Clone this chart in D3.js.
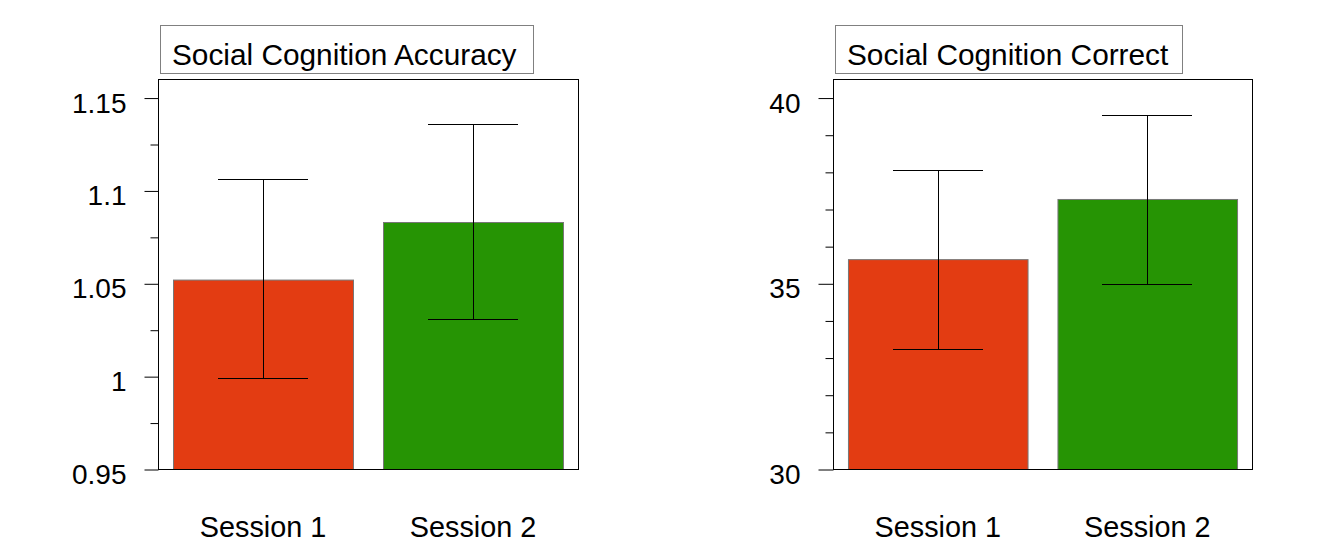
<!DOCTYPE html>
<html>
<head>
<meta charset="utf-8">
<script src="https://cdn.jsdelivr.net/npm/d3@7"></script>
<style>
  html, body { margin: 0; padding: 0; background: #ffffff; }
  svg { display: block; }
  text { font-family: "Liberation Sans", Arial, sans-serif; fill: #000; }
</style>
</head>
<body>
<svg id="chart" width="1334" height="555"></svg>
<script>
// ---- Data ----
const categories = ["Session 1", "Session 2"];
const barColors = ["#e33c12", "#269404"];

const accuracyTitle = "Social Cognition Accuracy";
const accuracyMeans = [1.052, 1.083];
const accuracyUpper = [1.106, 1.136];
const accuracyLower = [0.999, 1.031];
const accuracyMajorTicks = [0.95, 1.0, 1.05, 1.1, 1.15];
const accuracyTickLabels = ["0.95", "1", "1.05", "1.1", "1.15"];
const accuracyMinorTicks = [0.975, 1.025, 1.075, 1.125];
const accuracyDomain = [0.95, 1.16];

const correctTitle = "Social Cognition Correct";
const correctMeans = [35.65, 37.27];
const correctUpper = [38.04, 39.52];
const correctLower = [33.23, 34.98];
const correctMajorTicks = [30, 35, 40];
const correctTickLabels = ["30", "35", "40"];
const correctMinorTicks = [31, 32, 33, 34, 36, 37, 38, 39];
const correctDomain = [30, 40.5];

const svg = d3.select("#chart");

function panel(opts) {
  const { left, right, top, bottom, titleBox, title, means, upper, lower,
          majorTicks, tickLabels, minorTicks, domain, majorLen } = opts;
  const g = svg.append("g");

  const x = d3.scaleBand().domain(categories).range([left, right])
    .paddingInner(1 / 7).paddingOuter(1 / 14);
  const y = d3.scaleLinear().domain(domain).range([bottom, top]);

  // title box
  g.append("rect")
    .attr("x", titleBox[0] + 0.5).attr("y", titleBox[1] + 0.5)
    .attr("width", titleBox[2] - titleBox[0]).attr("height", titleBox[3] - titleBox[1])
    .attr("fill", "#fff").attr("stroke", "#808080").attr("stroke-width", 1);
  g.append("text")
    .attr("x", titleBox[0] + 12).attr("y", 65)
    .attr("font-size", 29.8)
    .text(title);

  // bars
  g.selectAll("rect.bar").data(categories).enter().append("rect")
    .attr("class", "bar")
    .attr("x", d => x(d) + 0.5)
    .attr("y", (d, i) => y(means[i]) + 0.5)
    .attr("width", x.bandwidth())
    .attr("height", (d, i) => y(domain[0]) - y(means[i]))
    .attr("fill", (d, i) => barColors[i])
    .attr("stroke", "#777")
    .attr("stroke-width", 1);

  // error bars
  const capHalf = x.bandwidth() / 4;
  const eb = g.selectAll("g.err").data(categories).enter().append("g").attr("class", "err");
  eb.append("line")
    .attr("x1", d => Math.round(x(d) + x.bandwidth() / 2) + 0.5)
    .attr("x2", d => Math.round(x(d) + x.bandwidth() / 2) + 0.5)
    .attr("y1", (d, i) => Math.round(y(upper[i])) + 0.5)
    .attr("y2", (d, i) => Math.round(y(lower[i])) + 0.5)
    .attr("stroke", "#000");
  [upper, lower].forEach(arr => {
    eb.append("line")
      .attr("x1", d => Math.round(x(d) + x.bandwidth() / 2 - capHalf))
      .attr("x2", d => Math.round(x(d) + x.bandwidth() / 2 + capHalf))
      .attr("y1", (d, i) => Math.round(y(arr[i])) + 0.5)
      .attr("y2", (d, i) => Math.round(y(arr[i])) + 0.5)
      .attr("stroke", "#000");
  });

  // plot frame
  g.append("rect")
    .attr("x", left + 0.5).attr("y", top + 0.5)
    .attr("width", right - left).attr("height", bottom - top)
    .attr("fill", "none").attr("stroke", "#000");

  // y axis major
  const axMajor = d3.axisLeft(y).tickValues(majorTicks)
    .tickFormat((d, i) => tickLabels[i]).tickSize(majorLen).tickPadding(18);
  const ga = g.append("g").attr("transform", `translate(${left + 0.5},0.5)`).call(axMajor);
  ga.select(".domain").remove();
  ga.selectAll(".tick line").attr("stroke", "#000");
  ga.selectAll(".tick text").attr("font-size", 28).attr("dy", "0.5em")
    .attr("font-family", "Liberation Sans, Arial, sans-serif").attr("fill", "#000");

  // y axis minor
  const axMinor = d3.axisLeft(y).tickValues(minorTicks).tickFormat("").tickSize(8);
  const gm = g.append("g").attr("transform", `translate(${left + 0.5},0.5)`).call(axMinor);
  gm.select(".domain").remove();
  gm.selectAll(".tick line").attr("stroke", "#000");

  // category labels
  g.selectAll("text.cat").data(categories).enter().append("text")
    .attr("class", "cat")
    .attr("x", d => x(d) + x.bandwidth() / 2)
    .attr("y", 537)
    .attr("text-anchor", "middle")
    .attr("font-size", 28.8)
    .text(d => d);
}

panel({
  left: 158, right: 578, top: 79, bottom: 469,
  titleBox: [160, 25, 533, 73], title: accuracyTitle,
  means: accuracyMeans, upper: accuracyUpper, lower: accuracyLower,
  majorTicks: accuracyMajorTicks, tickLabels: accuracyTickLabels,
  minorTicks: accuracyMinorTicks, domain: accuracyDomain, majorLen: 14
});

panel({
  left: 833, right: 1252, top: 79, bottom: 469,
  titleBox: [835, 25, 1182, 73], title: correctTitle,
  means: correctMeans, upper: correctUpper, lower: correctLower,
  majorTicks: correctMajorTicks, tickLabels: correctTickLabels,
  minorTicks: correctMinorTicks, domain: correctDomain, majorLen: 15
});
</script>
</body>
</html>
